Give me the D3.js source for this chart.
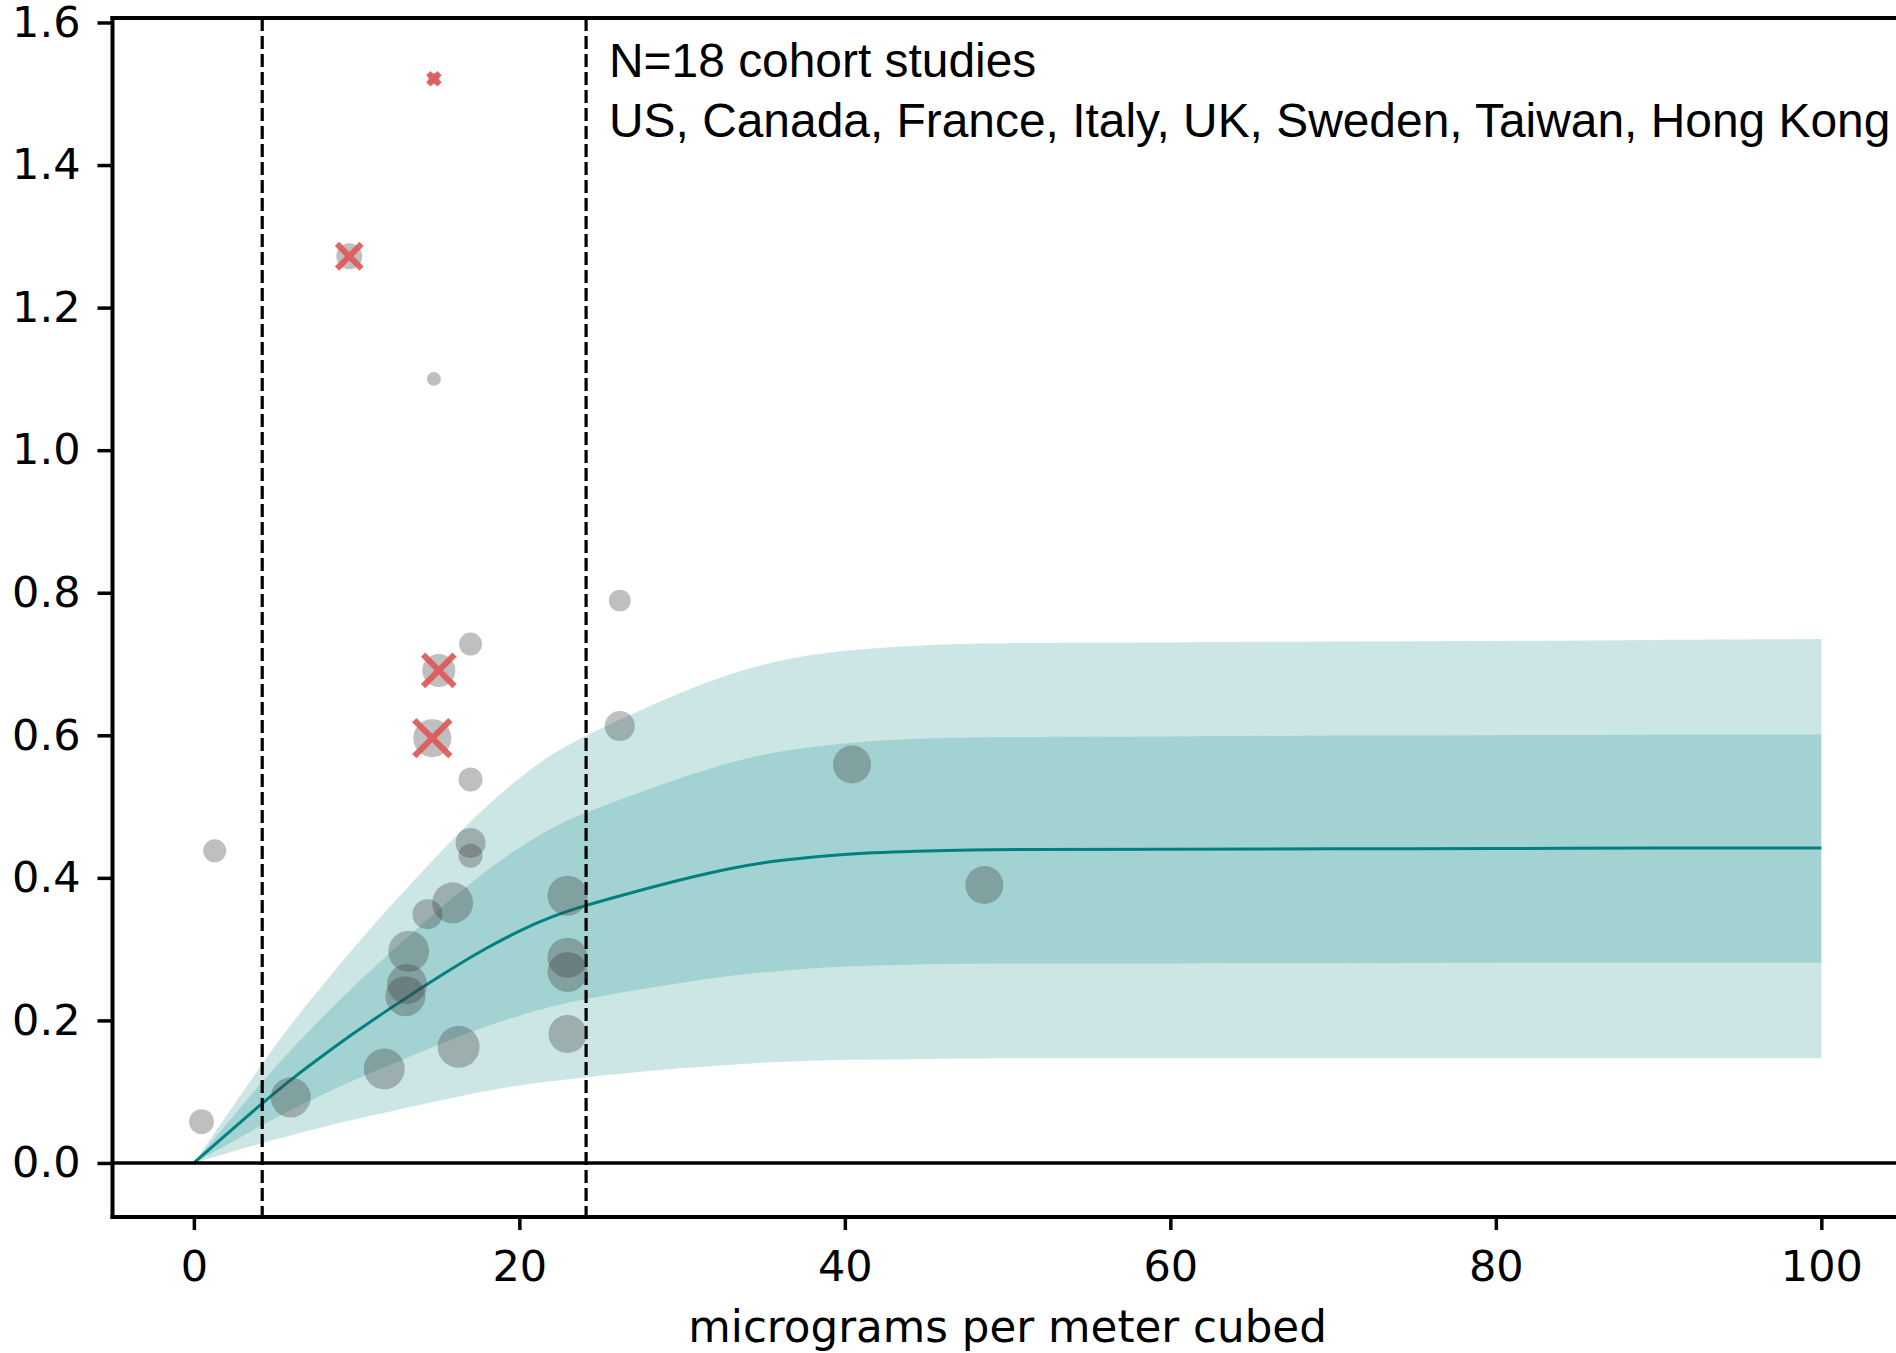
<!DOCTYPE html>
<html>
<head>
<meta charset="utf-8">
<script src="https://cdn.jsdelivr.net/npm/d3@7"></script>
<style>
  body { margin: 0; background: #fff; }
  svg { display: block; }
</style>
</head>
<body>
<svg id="chart"></svg>
<script>
// exposure grid (micrograms per m3) and the fitted curve with its bands
const grid   = [0, 2, 4, 6, 8, 10, 12, 14, 16, 18, 20, 22, 24, 27, 30, 33, 36, 40, 45, 50, 60, 70, 80, 90, 100];
const fitMid = [0, 0.040, 0.080, 0.118, 0.152, 0.185, 0.216, 0.246, 0.275, 0.302, 0.326, 0.346, 0.361, 0.380, 0.398, 0.414, 0.425, 0.434, 0.438, 0.440, 0.440, 0.441, 0.441, 0.442, 0.442];
const fitLo68 = [0, 0.025, 0.051, 0.075, 0.097, 0.118, 0.137, 0.156, 0.175, 0.192, 0.207, 0.220, 0.230, 0.242, 0.253, 0.263, 0.270, 0.276, 0.279, 0.280, 0.280, 0.280, 0.281, 0.281, 0.281];
const fitHi68 = [0, 0.054, 0.109, 0.160, 0.207, 0.252, 0.294, 0.335, 0.374, 0.411, 0.443, 0.471, 0.491, 0.517, 0.541, 0.563, 0.578, 0.590, 0.596, 0.598, 0.598, 0.600, 0.600, 0.601, 0.601];
const fitLo95 = [0, 0.013, 0.027, 0.039, 0.051, 0.062, 0.072, 0.082, 0.092, 0.101, 0.109, 0.115, 0.120, 0.127, 0.133, 0.138, 0.142, 0.145, 0.146, 0.147, 0.147, 0.147, 0.147, 0.147, 0.147];
const fitHi95 = [0, 0.066, 0.133, 0.196, 0.252, 0.307, 0.359, 0.408, 0.457, 0.501, 0.541, 0.574, 0.599, 0.631, 0.661, 0.687, 0.706, 0.720, 0.727, 0.730, 0.730, 0.732, 0.732, 0.734, 0.735];

// cohort study estimates
const studyX = [0.47, 1.28, 5.95, 9.55, 14.75, 14.75, 15.05, 14.65, 17.0, 17.0, 17.0, 17.0, 15.9, 14.35, 13.2, 13.1, 13.0, 11.7, 16.27, 22.96, 22.96, 22.96, 22.96, 26.17, 26.17, 40.44, 48.57];
const studyY = [0.058, 0.438, 0.092, 1.272, 1.521, 1.100, 0.691, 0.596, 0.728, 0.538, 0.449, 0.431, 0.365, 0.349, 0.297, 0.251, 0.234, 0.132, 0.163, 0.375, 0.288, 0.268, 0.181, 0.789, 0.613, 0.559, 0.390];
const studyW = [35, 30, 91, 38, 8, 11, 62, 82, 30, 33, 51, 33, 95, 51, 95, 91, 91, 95, 100, 91, 91, 91, 82, 27, 51, 82, 82];
const studyOut = [0, 0, 0, 1, 1, 0, 1, 1, 0, 0, 0, 0, 0, 0, 0, 0, 0, 0, 0, 0, 0, 0, 0, 0, 0, 0, 0];

const refLines = [4.2, 24.1];
const xTicks = [0, 20, 40, 60, 80, 100];
const yTicks = [0, 0.2, 0.4, 0.6, 0.8, 1.0, 1.2, 1.4, 1.6];
const noteLines = ['N=18 cohort studies', 'US, Canada, France, Italy, UK, Sweden, Taiwan, Hong Kong'];
const xLabel = 'micrograms per meter cubed';

const width = 1896;
const height = 1353;
const plot = {left: 112.5, top: 18, right: 1902.7, bottom: 1217};
const teal = '#008080';
const tickFont = '"DejaVu Sans", sans-serif';

const svg = d3.select('#chart')
  .attr('width', width)
  .attr('height', height)
  .style('background', '#fff');

const x = d3.scaleLinear()
  .domain([-5, 105])
  .range([plot.left, plot.right]);

const y = d3.scaleLinear()
  .domain([-0.0758, 1.6063])
  .range([plot.bottom, plot.top]);

const r = d3.scaleSqrt()
  .domain([0, 100])
  .range([0, 21]);

const fit = grid.map((g, i) => ({
  x: g,
  mid: fitMid[i],
  lo68: fitLo68[i],
  hi68: fitHi68[i],
  lo95: fitLo95[i],
  hi95: fitHi95[i]
}));

const studies = studyX.map((sx, i) => ({
  x: sx,
  y: studyY[i],
  w: studyW[i],
  out: studyOut[i] === 1
}));

// bands, two layers of translucent teal
const band = (lo, hi) => d3.area()
  .x(d => x(d.x))
  .y0(d => y(d[lo]))
  .y1(d => y(d[hi]))
  .curve(d3.curveBasis);

svg.append('path')
  .datum(fit)
  .attr('d', band('lo95', 'hi95'))
  .attr('fill', teal)
  .attr('fill-opacity', 0.2);

svg.append('path')
  .datum(fit)
  .attr('d', band('lo68', 'hi68'))
  .attr('fill', teal)
  .attr('fill-opacity', 0.2);

svg.append('path')
  .datum(fit)
  .attr('d', d3.line()
    .x(d => x(d.x))
    .y(d => y(d.mid))
    .curve(d3.curveBasis))
  .attr('fill', 'none')
  .attr('stroke', teal)
  .attr('stroke-width', 3);

// zero line
svg.append('line')
  .attr('x1', plot.left)
  .attr('x2', plot.right)
  .attr('y1', y(0))
  .attr('y2', y(0))
  .attr('stroke', '#000')
  .attr('stroke-width', 3.5);

// dashed reference lines
svg.selectAll('.ref')
  .data(refLines)
  .enter()
  .append('line')
  .attr('class', 'ref')
  .attr('x1', d => x(d))
  .attr('x2', d => x(d))
  .attr('y1', plot.top)
  .attr('y2', plot.bottom)
  .attr('stroke', '#000')
  .attr('stroke-width', 3.2)
  .attr('stroke-dasharray', '13,5');

// study points
svg.selectAll('.study')
  .data(studies)
  .enter()
  .append('circle')
  .attr('class', 'study')
  .attr('cx', d => x(d.x))
  .attr('cy', d => y(d.y))
  .attr('r', d => r(d.w))
  .attr('fill', '#3c3c3c')
  .attr('fill-opacity', 0.33);

const crosses = svg.selectAll('.cross')
  .data(studies.filter(d => d.out))
  .enter()
  .append('g')
  .attr('class', 'cross')
  .attr('transform', d => `translate(${x(d.x)}, ${y(d.y)})`);

crosses.append('path')
  .attr('d', d => {
    const s = Math.max(r(d.w) * 0.95, 5);
    return `M${-s},${-s}L${s},${s}M${-s},${s}L${s},${-s}`;
  })
  .attr('stroke', '#e05858')
  .attr('stroke-opacity', 0.92)
  .attr('stroke-width', 6)
  .attr('fill', 'none');

// axes
const yAxis = svg.append('g')
  .attr('transform', `translate(${plot.left}, 0)`)
  .call(d3.axisLeft(y)
    .tickValues(yTicks)
    .tickFormat(d3.format('.1f'))
    .tickSize(15)
    .tickSizeOuter(0)
    .tickPadding(17));

const xAxis = svg.append('g')
  .attr('transform', `translate(0, ${plot.bottom})`)
  .call(d3.axisBottom(x)
    .tickValues(xTicks)
    .tickFormat(d3.format('d'))
    .tickSize(13)
    .tickSizeOuter(0)
    .tickPadding(20));

[xAxis, yAxis].forEach(ax => {
  ax.select('.domain').remove();
  ax.selectAll('.tick line')
    .attr('stroke', '#000')
    .attr('stroke-width', 3.5);
  ax.selectAll('.tick text')
    .attr('fill', '#000')
    .style('font-family', tickFont)
    .style('font-size', '43px');
});

// spines (right one falls outside the picture)
const spines = [
  [plot.left, plot.top, plot.left, plot.bottom],
  [plot.left, plot.top, plot.right, plot.top],
  [plot.left, plot.bottom, plot.right, plot.bottom]
];
svg.selectAll('.spine')
  .data(spines)
  .enter()
  .append('line')
  .attr('class', 'spine')
  .attr('x1', d => d[0])
  .attr('y1', d => d[1])
  .attr('x2', d => d[2])
  .attr('y2', d => d[3])
  .attr('stroke', '#000')
  .attr('stroke-width', 4)
  .attr('stroke-linecap', 'square');

svg.append('text')
  .attr('x', (plot.left + plot.right) / 2)
  .attr('y', 1342)
  .attr('text-anchor', 'middle')
  .style('font-family', tickFont)
  .style('font-size', '43.6px')
  .text(xLabel);

svg.selectAll('.note')
  .data(noteLines)
  .enter()
  .append('text')
  .attr('class', 'note')
  .attr('x', 609)
  .attr('y', (d, i) => 76.5 + i * 60.5)
  .style('font-family', '"Liberation Sans", Arial, sans-serif')
  .style('font-size', '47.9px')
  .attr('fill', '#000')
  .text(d => d);
</script>
</body>
</html>
